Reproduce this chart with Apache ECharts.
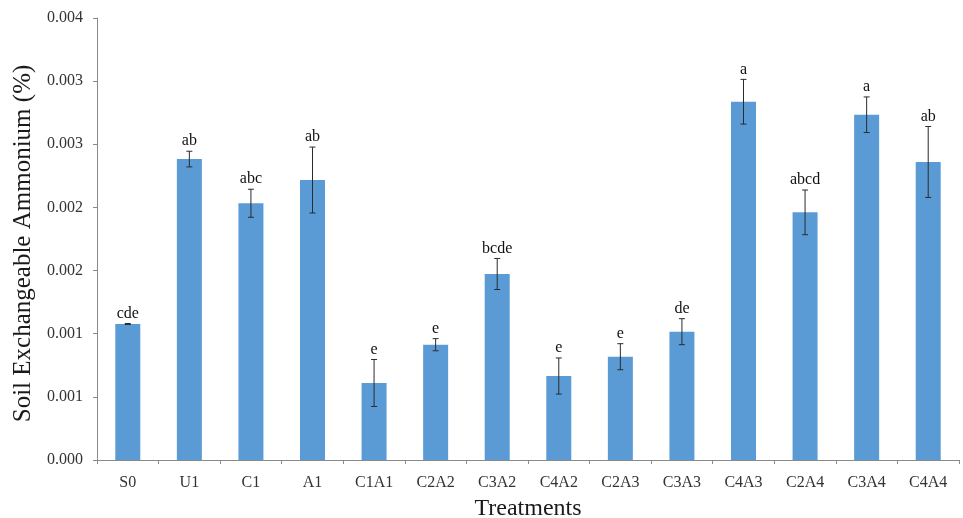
<!DOCTYPE html>
<html>
<head>
<meta charset="utf-8">
<script src="https://cdn.jsdelivr.net/npm/echarts@6/dist/echarts.min.js"></script>
<style>
  html, body { margin: 0; padding: 0; background: #ffffff; }
  #chart { width: 963px; height: 518px; }
</style>
</head>
<body>
<div id="chart"></div>
<script>
// Treatments along the x axis
const treatments = ['S0', 'U1', 'C1', 'A1', 'C1A1', 'C2A2', 'C3A2', 'C4A2', 'C2A3', 'C3A3', 'C4A3', 'C2A4', 'C3A4', 'C4A4'];
// Mean soil exchangeable ammonium (%)
const ammonium = [0.001077, 0.002383, 0.002033, 0.002217, 0.000610, 0.000913, 0.001473, 0.000665, 0.000818, 0.001016, 0.002837, 0.001961, 0.002734, 0.002360];
// Standard error of each mean
const stdError = [0.000004, 0.000062, 0.000111, 0.000261, 0.000186, 0.000048, 0.000123, 0.000143, 0.000103, 0.000103, 0.000177, 0.000177, 0.000141, 0.000281];
// Significance groups shown above each bar
const groups = ['cde', 'ab', 'abc', 'ab', 'e', 'e', 'bcde', 'e', 'e', 'de', 'a', 'abcd', 'a', 'ab'];
// Value axis range and step
const yMin = 0;
const yMax = 0.0035;
const yStep = 0.0005;

const serif = '"Liberation Serif", "Times New Roman", serif';
const axisGray = '#8a8a8a';

const chart = echarts.init(document.getElementById('chart'), null, { renderer: 'canvas' });

const errorData = treatments.map((t, i) => [i, ammonium[i], stdError[i]]);

chart.setOption({
  animation: false,
  backgroundColor: '#ffffff',
  grid: { left: 97, right: 4, top: 18, bottom: 58, containLabel: false, outerBoundsMode: 'none' },
  xAxis: {
    type: 'category',
    data: treatments,
    name: 'Treatments',
    nameLocation: 'middle',
    nameGap: 37,
    nameTextStyle: { fontFamily: serif, fontSize: 24, color: '#1a1a1a' },
    axisLine: { lineStyle: { color: axisGray, width: 1 } },
    axisTick: { show: true, length: 4, lineStyle: { color: axisGray } },
    axisLabel: { fontFamily: serif, fontSize: 16, color: '#333333', margin: 15 }
  },
  yAxis: {
    type: 'value',
    min: yMin,
    max: yMax,
    interval: yStep,
    name: 'Soil Exchangeable Ammonium (%)',
    nameLocation: 'middle',
    nameGap: 59,
    nameTextStyle: { fontFamily: serif, fontSize: 25, color: '#1a1a1a', padding: [0, 9, 0, 0] },
    axisLine: { show: true, lineStyle: { color: axisGray, width: 1 } },
    axisTick: { show: true, length: 4, lineStyle: { color: axisGray } },
    splitLine: { show: false },
    axisLabel: {
      fontFamily: serif, fontSize: 16, color: '#333333', margin: 14,
      formatter: v => (Math.round(v * 1000 + 1e-9) / 1000).toFixed(3)
    }
  },
  series: [
    {
      type: 'bar',
      data: ammonium,
      barWidth: 25,
      itemStyle: { color: '#5b9bd5' }
    },
    {
      type: 'custom',
      data: errorData,
      encode: { x: 0, y: 1 },
      z: 10,
      renderItem: (params, api) => {
        const i = api.value(0);
        const v = api.value(1);
        const e = api.value(2);
        const top = api.coord([i, v + e]);
        const bot = api.coord([i, v - e]);
        const cap = 3;
        const stroke = { stroke: '#2b2b2b', lineWidth: 1 };
        const children = [];
        if (e > 0) {
          children.push({ type: 'line', shape: { x1: top[0], y1: top[1], x2: bot[0], y2: bot[1] }, style: stroke });
          children.push({ type: 'line', shape: { x1: top[0] - cap, y1: top[1], x2: top[0] + cap, y2: top[1] }, style: stroke });
          children.push({ type: 'line', shape: { x1: bot[0] - cap, y1: bot[1], x2: bot[0] + cap, y2: bot[1] }, style: stroke });
        }
        children.push({
          type: 'text',
          style: {
            text: groups[params.dataIndex],
            x: top[0],
            y: top[1] - 2,
            align: 'center',
            verticalAlign: 'bottom',
            fontFamily: serif,
            fontSize: 16,
            fill: '#111111'
          }
        });
        return { type: 'group', children };
      }
    }
  ]
});
</script>
</body>
</html>
